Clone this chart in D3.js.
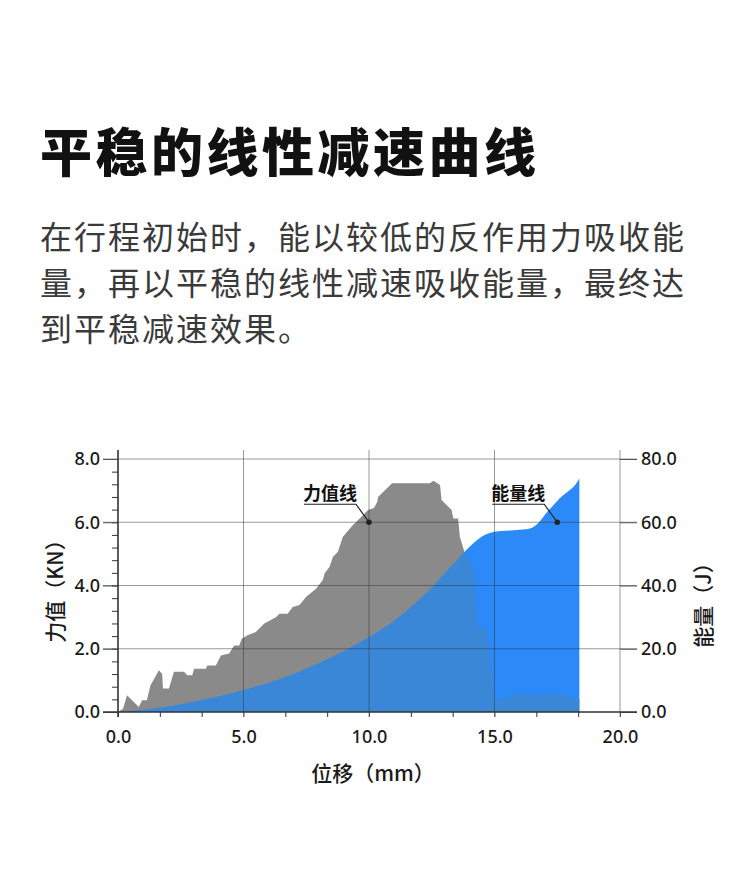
<!DOCTYPE html>
<html>
<head>
<meta charset="utf-8">
<script src="https://cdn.jsdelivr.net/npm/d3@7"></script>
<style>
  html, body { margin: 0; padding: 0; background: #fff; }
  svg { display: block; }
</style>
</head>
<body>
<div class="chart"></div>
<script>
// ---- data ----
var title = "平稳的线性减速曲线";
var bodyLines = [
    "在行程初始时，能以较低的反作用力吸收能",
    "量，再以平稳的线性减速吸收能量，最终达",
    "到平稳减速效果。"
];

// force curve (mm, KN)
var forceX = [0, 0.2, 0.36, 0.83, 0.96, 1.15, 1.29, 1.63, 1.76, 1.79, 2.03, 2.23, 2.63, 2.76, 2.96, 3.03, 3.5, 3.56, 3.9,
    4.1, 4.43, 4.63, 4.83, 4.93, 5.16, 5.49, 5.83, 6.29, 6.43, 6.76, 6.96, 7.23, 7.49, 7.89, 8.16, 8.23, 8.43, 8.56,
    8.76, 8.96, 9.36, 9.63, 9.96, 10.2, 10.33, 10.36, 10.92, 12.43, 12.57, 12.83, 12.89, 13.29, 13.36, 13.55, 13.62,
    13.82, 14.0, 14.14, 14.21, 14.3, 14.34, 14.67, 14.8, 14.93, 15.0, 15.1, 15.59, 15.99, 16.5, 17.0, 17.53, 18.05,
    18.38, 18.38];
var forceY = [0, 0.1, 0.53, 0.16, 0.37, 0.37, 0.84, 1.32, 1.2, 0.74, 0.74, 1.27, 1.27, 1.16, 1.16, 1.37, 1.37, 1.47, 1.47,
    1.79, 1.85, 2.1, 2.1, 2.32, 2.43, 2.53, 2.8, 3.0, 3.11, 3.11, 3.32, 3.38, 3.64, 3.9, 4.17, 4.38, 4.59, 4.9,
    5.07, 5.54, 5.91, 6.12, 6.39, 6.45, 6.65, 6.8, 7.23, 7.23, 7.31, 7.18, 6.7, 6.39, 6.12, 6.12, 5.54,
    5.01, 4.75, 4.59, 3.85, 2.8, 2.69, 2.59, 1.85, 1.11, 0.37, 0.37, 0.47, 0.58, 0.53, 0.55, 0.58, 0.47,
    0.42, 0];

// energy curve (mm, J)
var energyX = [0, 1, 2, 3, 4, 5, 6, 7, 8, 9, 10, 11, 12, 12.5, 13, 13.5, 14, 14.5, 15, 15.5, 16, 16.5, 16.8, 17, 17.3, 17.6, 18, 18.2, 18.38];
var energyY = [0, 0.6, 1.7, 3.2, 4.9, 6.9, 9.2, 12.0, 15.4, 19.2, 23.6, 28.8, 35.5, 39.3, 43.7, 48.0, 52.2, 55.5, 57, 57.3, 57.6, 58.3, 60.2, 62.3, 65, 67.6, 70.2, 71.6, 73.8];

var xTicks = [0, 5, 10, 15, 20];
var forceTicks = [0, 2, 4, 6, 8];
var energyTicks = [0, 20, 40, 60, 80];

// annotation anchors: [x mm, value on own axis]
var forceNote = { text: "力值线", x: 10, y: 6 };
var energyNote = { text: "能量线", x: 17.5, y: 60 };

var width = 750;
var height = 883;
var cjk = "'Noto Sans CJK SC', 'Noto Sans', sans-serif";

var svg = d3.select(".chart")
    .append("svg")
    .attr("width", width)
    .attr("height", height);

//////// header text
svg.append("text")
    .attr("x", 40)
    .attr("y", 172)
    .attr("font-family", cjk)
    .attr("font-size", "52px")
    .attr("font-weight", 900)
    .attr("letter-spacing", "3.5px")
    .attr("fill", "#111")
    .text(title);

svg.selectAll(".body-line")
    .data(bodyLines)
    .enter()
    .append("text")
    .attr("class", "body-line")
    .attr("x", 40)
    .attr("y", function(d, i) { return 249 + i * 46; })
    .attr("font-family", cjk)
    .attr("font-size", "32px")
    .attr("letter-spacing", "2px")
    .attr("fill", "#3a3a3a")
    .text(function(d) { return d; });

//////// scales
var x = d3.scaleLinear().domain([0, 20]).range([118, 620]);
var yL = d3.scaleLinear().domain([0, 8]).range([712, 459]);
var yR = d3.scaleLinear().domain([0, 80]).range([712, 459]);

var forceData = forceX.map(function(d, i) { return [d, forceY[i]]; });
var energyData = energyX.map(function(d, i) { return [d, energyY[i]]; });

var forceArea = d3.area()
    .x(function(d) { return x(d[0]); })
    .y0(yL(0))
    .y1(function(d) { return yL(d[1]); });

var energyArea = d3.area()
    .x(function(d) { return x(d[0]); })
    .y0(yR(0))
    .y1(function(d) { return yR(d[1]); })
    .curve(d3.curveMonotoneX);

svg.append("defs")
    .append("clipPath")
    .attr("id", "energy-clip")
    .append("path")
    .attr("d", energyArea(energyData));

// gray force area
svg.append("path")
    .attr("d", forceArea(forceData))
    .attr("fill", "#8a8a8a");

// blue energy area
svg.append("path")
    .attr("d", energyArea(energyData))
    .attr("fill", "#2b8af7");

// where both overlap
svg.append("path")
    .attr("d", forceArea(forceData))
    .attr("fill", "#3a87d8")
    .attr("clip-path", "url(#energy-clip)");

//////// grid
var grid = svg.append("g")
    .attr("stroke", "#333")
    .attr("stroke-opacity", 0.5)
    .attr("stroke-width", 1);

grid.selectAll(".hgrid")
    .data(forceTicks.slice(1))
    .enter()
    .append("line")
    .attr("x1", 103)
    .attr("x2", 637)
    .attr("y1", function(d) { return yL(d); })
    .attr("y2", function(d) { return yL(d); });

grid.selectAll(".vgrid")
    .data(xTicks.slice(1))
    .enter()
    .append("line")
    .attr("x1", function(d) { return x(d); })
    .attr("x2", function(d) { return x(d); })
    .attr("y1", 450)
    .attr("y2", 717);

//////// axes
var fmt = d3.format(".1f");
var tickFont = "'Noto Sans', sans-serif";

function styleTicks(g) {
    g.select(".domain").remove();
    g.selectAll("line").attr("stroke", "#555");
    g.selectAll("text")
        .attr("font-family", tickFont)
        .attr("font-size", "18px")
        .attr("font-weight", 500)
        .attr("fill", "#1a1a1a");
}

// left minor ticks
var minorY = d3.range(0, 8.01, 0.4);
svg.append("g")
    .attr("transform", "translate(118,0)")
    .call(d3.axisLeft(yL).tickValues(minorY).tickSize(6).tickFormat(""))
    .call(function(g) { g.select(".domain").remove(); })
    .selectAll("line").attr("stroke", "#333");

// left major ticks + labels
svg.append("g")
    .attr("transform", "translate(118,0)")
    .call(d3.axisLeft(yL).tickValues(forceTicks).tickSize(15).tickPadding(3).tickFormat(fmt))
    .call(styleTicks);

// right labels
svg.append("g")
    .attr("transform", "translate(620,0)")
    .call(d3.axisRight(yR).tickValues(energyTicks).tickSize(17).tickPadding(4).tickFormat(fmt))
    .call(styleTicks);

// bottom minor ticks
var minorX = d3.range(0, 21).map(function(i) { return i * 5 / 3; })
    .filter(function(d, i) { return i % 3 !== 0 && d < 20; });
svg.append("g")
    .attr("transform", "translate(0,712)")
    .call(d3.axisBottom(x).tickValues(minorX).tickSize(5).tickFormat(""))
    .call(function(g) { g.select(".domain").remove(); })
    .selectAll("line").attr("stroke", "#333");

svg.append("g")
    .attr("transform", "translate(0,712)")
    .call(d3.axisBottom(x).tickValues(xTicks).tickSize(5).tickPadding(13).tickFormat(fmt))
    .call(styleTicks);

// axis lines
svg.append("line")
    .attr("x1", 103).attr("x2", 637)
    .attr("y1", yL(0)).attr("y2", yL(0))
    .attr("stroke", "#333")
    .attr("stroke-width", 1.6);

svg.append("line")
    .attr("x1", x(0)).attr("x2", x(0))
    .attr("y1", 450).attr("y2", 717)
    .attr("stroke", "#333")
    .attr("stroke-width", 1.6);

//////// axis titles
svg.append("text")
    .attr("transform", "translate(" + 63 + "," + 586 + ") rotate(-90)")
    .attr("text-anchor", "middle")
    .attr("font-family", cjk)
    .attr("font-size", "21px")
    .attr("font-weight", 500)
    .attr("fill", "#1a1a1a")
    .text("力值（KN）");

svg.append("text")
    .attr("transform", "translate(" + 711 + "," + 600 + ") rotate(-90)")
    .attr("text-anchor", "middle")
    .attr("font-family", cjk)
    .attr("font-size", "21px")
    .attr("font-weight", 500)
    .attr("fill", "#1a1a1a")
    .text("能量（J）");

svg.append("text")
    .attr("x", 373)
    .attr("y", 781)
    .attr("text-anchor", "middle")
    .attr("font-family", cjk)
    .attr("font-size", "21px")
    .attr("font-weight", 500)
    .attr("fill", "#1a1a1a")
    .text("位移（mm）");

//////// annotations
function addNote(note, yScale) {
    var px = x(note.x);
    var py = yScale(note.y);
    var g = svg.append("g");
    g.append("path")
        .attr("d", "M " + (px - 65) + " " + (py - 18) + " L " + (px - 13) + " " + (py - 18) + " L " + px + " " + py)
        .attr("fill", "none")
        .attr("stroke", "#222")
        .attr("stroke-width", 1.2);
    g.append("circle")
        .attr("cx", px)
        .attr("cy", py)
        .attr("r", 2.8)
        .attr("fill", "#222");
    g.append("text")
        .attr("x", px - 66)
        .attr("y", py - 22)
        .attr("font-family", cjk)
        .attr("font-size", "18px")
        .attr("font-weight", "bold")
        .attr("fill", "#111")
        .text(note.text);
}

addNote(forceNote, yL);
addNote(energyNote, yR);
</script>
</body>
</html>
